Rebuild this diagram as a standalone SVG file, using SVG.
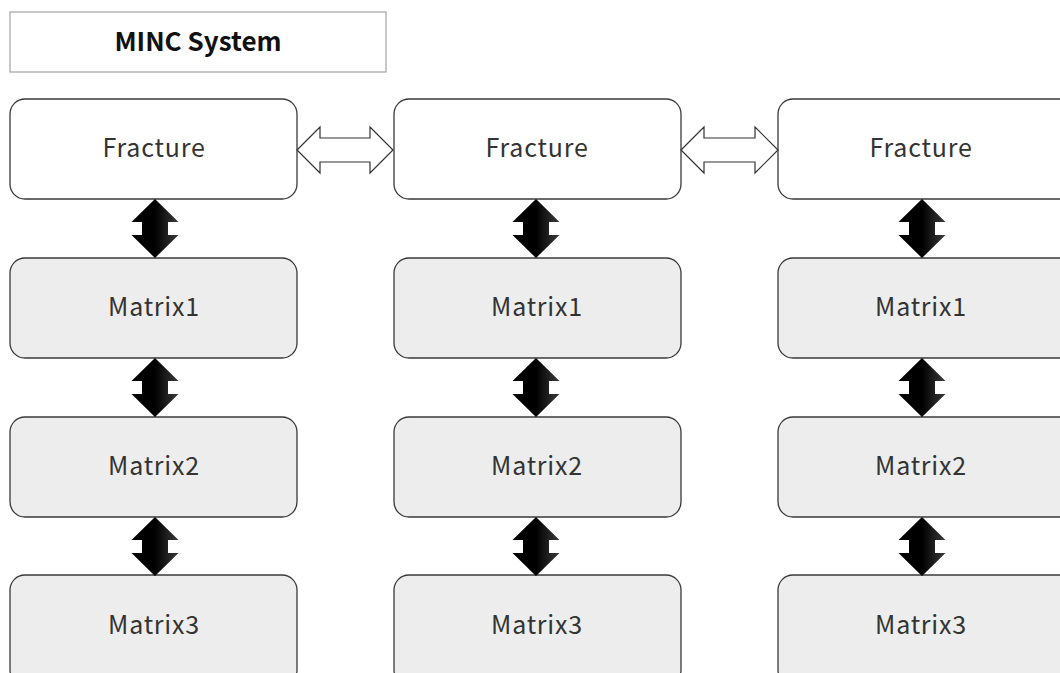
<svg xmlns="http://www.w3.org/2000/svg" width="1060" height="673" viewBox="0 0 1060 673">
<style>
.box{stroke:#3a3a3a;stroke-width:1.3}
.frac{fill:#ffffff}
.mat{fill:#ededed}
.lbl{font-family:"Noto Sans CJK JP","Noto Sans",sans-serif;font-size:25px;fill:#333;text-anchor:middle;letter-spacing:0.8px}
.title{font-family:"Noto Sans CJK JP","Noto Sans",sans-serif;font-size:26px;font-weight:bold;fill:#111;text-anchor:middle}
.harrow{fill:#fff;stroke:#333;stroke-width:1.2}
.varrow{fill:url(#vg)}
</style>
<defs>
<linearGradient id="vg" x1="0" y1="0" x2="1" y2="0">
<stop offset="0" stop-color="#000"/>
<stop offset="0.5" stop-color="#000"/>
<stop offset="1" stop-color="#3c3c3c"/>
</linearGradient>
<path id="va" d="M0,0 L23.5,23 L13,23 L13,36 L23.5,36 L0,59 L-23.5,36 L-13,36 L-13,23 L-23.5,23 Z"/>
</defs>
<g id="title">
<rect x="10" y="12" width="376" height="60" fill="#fff" stroke="#aaa" stroke-width="1.3"/>
<text class="title" x="198" y="51">MINC System</text>
</g>
<g id="col1">
<g id="fracture1"><rect class="box frac" x="10" y="99" width="287" height="100" rx="15"/><text class="lbl" x="154" y="157">Fracture</text></g>
<g id="matrix1_1"><rect class="box mat" x="10" y="258" width="287" height="100" rx="15"/><text class="lbl" x="154" y="316">Matrix1</text></g>
<g id="matrix2_1"><rect class="box mat" x="10" y="417" width="287" height="100" rx="15"/><text class="lbl" x="154" y="475">Matrix2</text></g>
<g id="matrix3_1"><rect class="box mat" x="10" y="575" width="287" height="110" rx="15"/><text class="lbl" x="154" y="634">Matrix3</text></g>
</g>
<g id="col2">
<g id="fracture2"><rect class="box frac" x="394" y="99" width="287" height="100" rx="15"/><text class="lbl" x="537" y="157">Fracture</text></g>
<g id="matrix1_2"><rect class="box mat" x="394" y="258" width="287" height="100" rx="15"/><text class="lbl" x="537" y="316">Matrix1</text></g>
<g id="matrix2_2"><rect class="box mat" x="394" y="417" width="287" height="100" rx="15"/><text class="lbl" x="537" y="475">Matrix2</text></g>
<g id="matrix3_2"><rect class="box mat" x="394" y="575" width="287" height="110" rx="15"/><text class="lbl" x="537" y="634">Matrix3</text></g>
</g>
<g id="col3">
<g id="fracture3"><rect class="box frac" x="778" y="99" width="300" height="100" rx="15"/><text class="lbl" x="921" y="157">Fracture</text></g>
<g id="matrix1_3"><rect class="box mat" x="778" y="258" width="300" height="100" rx="15"/><text class="lbl" x="921" y="316">Matrix1</text></g>
<g id="matrix2_3"><rect class="box mat" x="778" y="417" width="300" height="100" rx="15"/><text class="lbl" x="921" y="475">Matrix2</text></g>
<g id="matrix3_3"><rect class="box mat" x="778" y="575" width="300" height="110" rx="15"/><text class="lbl" x="921" y="634">Matrix3</text></g>
</g>
<g id="connectors">
<path class="harrow" d="M297,150 L320,127 L320,138 L370,138 L370,127 L393,150 L370,173 L370,162 L320,162 L320,173 Z"/>
<path class="harrow" d="M681,150 L704,127 L704,138 L755,138 L755,127 L778,150 L755,173 L755,162 L704,162 L704,173 Z"/>
<use class="varrow" href="#va" x="155" y="199"/>
<use class="varrow" href="#va" x="155" y="358"/>
<use class="varrow" href="#va" x="155" y="517"/>
<use class="varrow" href="#va" x="536" y="199"/>
<use class="varrow" href="#va" x="536" y="358"/>
<use class="varrow" href="#va" x="536" y="517"/>
<use class="varrow" href="#va" x="922" y="199"/>
<use class="varrow" href="#va" x="922" y="358"/>
<use class="varrow" href="#va" x="922" y="517"/>
</g>
</svg>
